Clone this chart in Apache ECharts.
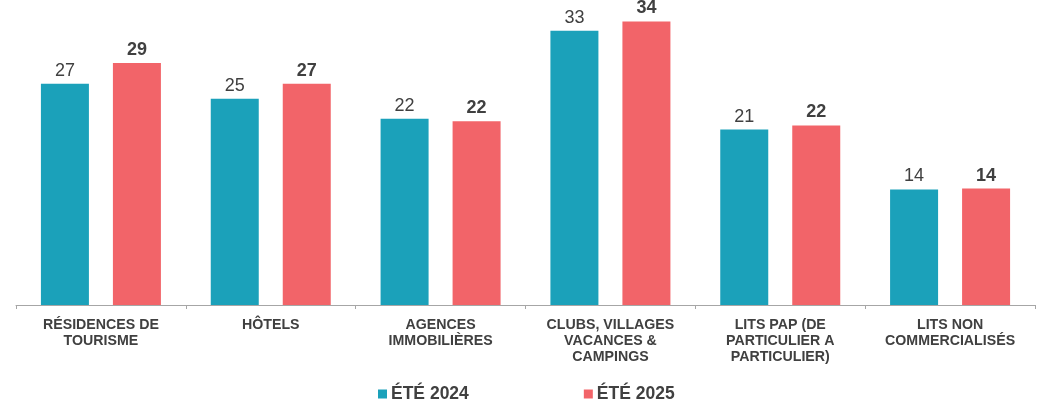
<!DOCTYPE html>
<html>
<head>
<meta charset="utf-8">
<script src="https://cdn.jsdelivr.net/npm/echarts@6/dist/echarts.min.js"></script>
<style>
  html, body { margin: 0; padding: 0; background: #fff; }
  #chart { width: 1044px; height: 406px; }
</style>
</head>
<body>
<div id="chart"></div>
<script>
// categories (line breaks as in the original)
const categories = [
  'RÉSIDENCES DE\nTOURISME',
  'HÔTELS',
  'AGENCES\nIMMOBILIÈRES',
  'CLUBS, VILLAGES\nVACANCES &\nCAMPINGS',
  'LITS PAP (DE\nPARTICULIER A\nPARTICULIER)',
  'LITS NON\nCOMMERCIALISÉS'
];
const seriesNames = ['ÉTÉ 2024', 'ÉTÉ 2025'];
const ete2024 = [26.6, 24.8, 22.4, 33.0, 21.1, 13.9];
const ete2025 = [29.1, 26.6, 22.1, 34.1, 21.6, 14.0];

const FONT = '"Liberation Sans", Arial, sans-serif';

const chart = echarts.init(document.getElementById('chart'), null, { renderer: 'canvas' });

const option = {
  animation: false,
  color: ['#1BA1BA', '#F26469'],
  textStyle: { fontFamily: FONT },
  grid: {
    left: 16,
    right: 9,
    top: 14,
    bottom: 101
  },
  legend: {
    data: seriesNames,
    left: 378,
    top: 385,
    padding: 0,
    itemWidth: 9,
    itemHeight: 9,
    itemGap: 115,
    icon: 'rect',
    textStyle: {
      fontFamily: FONT,
      fontSize: 17.5,
      fontWeight: 'bold',
      color: '#404040',
      padding: [0, 0, 0, -1]
    }
  },
  xAxis: {
    type: 'category',
    data: categories,
    axisLine: { lineStyle: { color: '#a6a6a6', width: 1 } },
    axisTick: { show: true, length: 4, lineStyle: { color: '#a6a6a6' } },
    axisLabel: {
      interval: 0,
      margin: 12,
      fontFamily: FONT,
      fontSize: 14.2,
      fontWeight: 'bold',
      lineHeight: 16,
      color: '#404040'
    }
  },
  yAxis: {
    type: 'value',
    min: 0,
    max: 35,
    show: false,
    splitLine: { show: false }
  },
  series: [
    {
      name: seriesNames[0],
      type: 'bar',
      data: ete2024,
      barWidth: 48,
      barGap: '50%',
      label: {
        show: true,
        position: 'top',
        distance: 4,
        fontFamily: FONT,
        fontSize: 18,
        color: '#404040',
        formatter: p => Math.round(p.value)
      }
    },
    {
      name: seriesNames[1],
      type: 'bar',
      data: ete2025,
      barWidth: 48,
      label: {
        show: true,
        position: 'top',
        distance: 4,
        fontFamily: FONT,
        fontSize: 18,
        fontWeight: 'bold',
        color: '#404040',
        formatter: p => Math.round(p.value)
      }
    }
  ]
};

chart.setOption(option);
</script>
</body>
</html>
